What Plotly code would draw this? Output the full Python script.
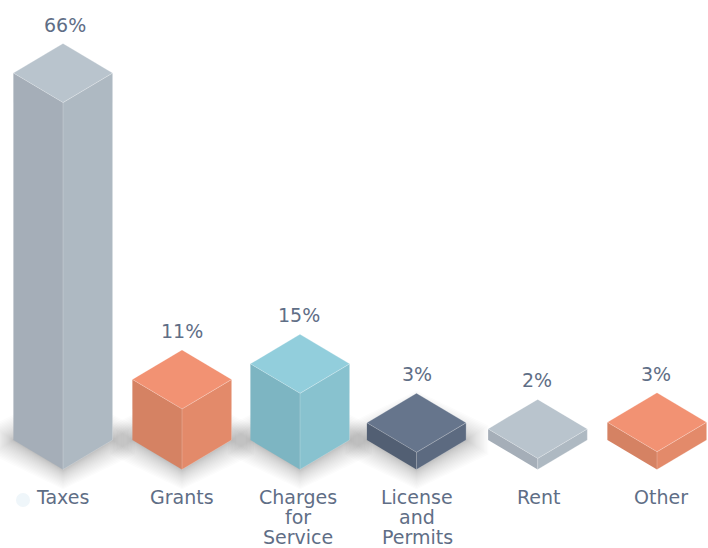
import plotly.graph_objects as go

# ---- data ----
categories = ["Taxes", "Grants", "Charges\nfor\nService", "License\nand\nPermits", "Rent", "Other"]
percent_labels = ["66%", "11%", "15%", "3%", "2%", "3%"]
bar_heights = [66.0, 10.9, 13.7, 3.1, 2.0, 3.2]

# ---- layout and style ----
W, H = 708, 548
PX_PER_UNIT = 5.56
BASE_PX = 469.5
HALF_W = 49.6
DEPTH = 29.5 / PX_PER_UNIT
CENTERS = [63, 182, 300, 416.5, 537.7, 657]
VALUE_NUDGE = [2, 0, -1, 0, -1, -1]
LABEL_NUDGE = [-0.5, -0.5, -2, 0.5, 1, 4]
TOP = ["#b9c4cd", "#f29273", "#92cedc", "#66758c", "#b9c4cd", "#f29273"]
LEFT = ["#a5aeb8", "#d58263", "#7db5c2", "#525f73", "#a5aeb8", "#d58263"]
RIGHT = ["#aeb9c2", "#e38a6a", "#88c2cf", "#5c6a80", "#aeb9c2", "#e38a6a"]
SHADOW = [True, True, True, True, False, False]
TEXT = "#5f6e86"
FONT = "DejaVu Sans"
EDGE = "rgba(255,255,255,0.30)"

fig = go.Figure()


def poly(xs, ys, fill, line=None):
    fig.add_trace(go.Scatter(
        x=xs + xs[:1], y=ys + ys[:1], mode="lines", fill="toself", fillcolor=fill,
        line=dict(color=line or "rgba(0,0,0,0)", width=0.7 if line else 0),
        hoverinfo="skip", showlegend=False))


# soft ground shadows
LAYERS = 22
for cx, has in zip(CENTERS, SHADOW):
    if not has:
        continue
    for k in range(LAYERS):
        grow = 36 * ((k + 1) / LAYERS) ** 1.5
        hw = HALF_W + 0.62 * grow
        hd = DEPTH + 0.55 * grow / PX_PER_UNIT
        s = 0.4 * grow / PX_PER_UNIT
        mid = DEPTH
        poly([cx - hw, cx - hw, cx, cx + hw, cx + hw, cx],
             [mid - s, mid + s, mid + hd, mid + s, mid - s, mid - hd],
             "rgba(50,50,50,0.015)")

# isometric bars
for i, (cx, h) in enumerate(zip(CENTERS, bar_heights)):
    xl, xr = cx - HALF_W, cx + HALF_W
    poly([xl, cx, cx, xl], [DEPTH, 0, h, h + DEPTH], LEFT[i])
    poly([cx, xr, xr, cx], [0, DEPTH, h + DEPTH, h], RIGHT[i], EDGE)
    poly([xl, cx, xr, cx], [h + DEPTH, h, h + DEPTH, h + 2 * DEPTH], TOP[i], EDGE)

annotations = []
for cx, nudge, h, lab in zip(CENTERS, VALUE_NUDGE, bar_heights, percent_labels):
    annotations.append(dict(x=cx + nudge, y=h + 2 * DEPTH, yshift=19, text=lab, showarrow=False,
                            xanchor="center", yanchor="middle",
                            font=dict(family=FONT, size=19, color=TEXT)))
for cx, nudge, cat in zip(CENTERS, LABEL_NUDGE, categories):
    for j, line in enumerate(cat.split("\n")):
        annotations.append(dict(x=cx + nudge, y=0, yshift=-(27.5 + j * 20.2), text=line, showarrow=False,
                                xanchor="center", yanchor="middle", borderpad=0,
                                font=dict(family=FONT, size=19, color=TEXT)))

# pale dot beside the first label
fig.add_trace(go.Scatter(x=[23], y=[-30.5 / PX_PER_UNIT], mode="markers",
                         marker=dict(size=14, color="#eff6fa"), hoverinfo="skip", showlegend=False))

fig.update_layout(
    width=W, height=H, autosize=False, margin=dict(l=0, r=0, t=0, b=0),
    paper_bgcolor="white", plot_bgcolor="white", showlegend=False, annotations=annotations,
    xaxis=dict(visible=False, range=[0, W], fixedrange=True),
    yaxis=dict(visible=False, fixedrange=True,
               range=[-(H - BASE_PX) / PX_PER_UNIT, BASE_PX / PX_PER_UNIT]),
)
fig.write_html("out.html", config={"displayModeBar": False},
               post_script="document.body.style.margin='0';document.documentElement.style.overflow='hidden';")
